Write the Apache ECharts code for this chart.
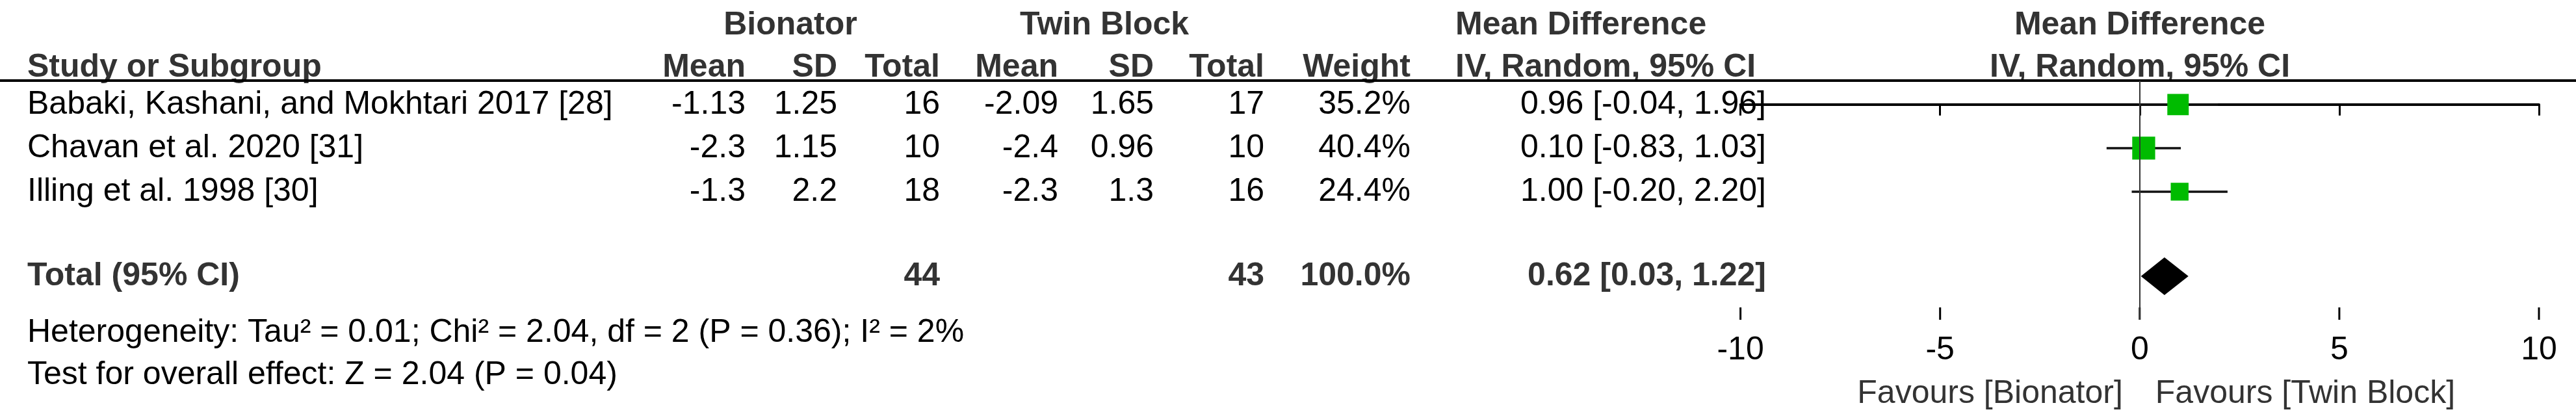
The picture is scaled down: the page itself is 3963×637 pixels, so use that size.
<!DOCTYPE html>
<html><head><meta charset="utf-8">
<script src="https://cdn.jsdelivr.net/npm/echarts@6/dist/echarts.min.js"></script>
<style>html,body{margin:0;padding:0;background:#fff}#c{width:3963px;height:637px}</style>
</head><body><div id="c"></div>
<script>
const studies = ['Babaki, Kashani, and Mokhtari 2017 [28]', 'Chavan et al. 2020 [31]', 'Illing et al. 1998 [30]'];
const bioMean = ['-1.13', '-2.3', '-1.3'];
const bioSD = ['1.25', '1.15', '2.2'];
const bioN = [16, 10, 18];
const twinMean = ['-2.09', '-2.4', '-2.3'];
const twinSD = ['1.65', '0.96', '1.3'];
const twinN = [17, 10, 16];
const weights = [35.2, 40.4, 24.4];
const md = [0.96, 0.10, 1.00];
const lo = [-0.04, -0.83, -0.20];
const hi = [1.96, 1.03, 2.20];
const total = {bioN: 44, twinN: 43, weight: '100.0%', md: 0.62, lo: 0.03, hi: 1.22};
const xTicks = [-10, -5, 0, 5, 10];
const heterogeneity = 'Heterogeneity: Tau² = 0.01; Chi² = 2.04, df = 2 (P = 0.36); I² = 2%';
const overall = 'Test for overall effect: Z = 2.04 (P = 0.04)';

const FONT = '"Liberation Sans", Arial, sans-serif';
const FS = 50;
const rowsY = [0, 1, 2];
const totalY = 3.94;
const axisY = 4.94;
const chart = echarts.init(document.getElementById('c'));
const fmt = v => v.toFixed(2);

chart.setOption({
  animation: false,
  grid: {left: 2677.6, right: 57, top: 124, bottom: 145},
  xAxis: {type: 'value', min: -10, max: 10, interval: 5, position: 'bottom',
     axisLine: {show: true, lineStyle: {color: '#000', width: 4}},
     axisTick: {show: true, length: 17, lineStyle: {color: '#000', width: 3}},
     axisLabel: {show: true, fontFamily: FONT, fontSize: FS, color: '#000', margin: 22},
     splitLine: {show: false}},
  yAxis: {type: 'value', min: -0.55, max: axisY, inverse: true, show: false},
  series: [
    {type: 'custom',
     data: md.map((m, i) => [m, rowsY[i], lo[i], hi[i], weights[i]]),
     renderItem: (params, api) => {
       const p = api.coord([api.value(0), api.value(1)]);
       const a = api.coord([api.value(2), api.value(1)]);
       const b = api.coord([api.value(3), api.value(1)]);
       const s = Math.sqrt(api.value(4)) * 5.55;
       return {type: 'group', children: [
         {type: 'line', shape: {x1: a[0], y1: p[1], x2: b[0], y2: p[1]}, style: {stroke: '#111', lineWidth: 3.5}},
         {type: 'rect', shape: {x: p[0] - s / 2, y: p[1] - s / 2, width: s, height: s}, style: {fill: '#00bb00'}}
       ]};
     },
     markLine: {silent: true, symbol: 'none', label: {show: false},
       lineStyle: {color: '#333', width: 2, type: 'solid'}, data: [{xAxis: 0}]}
    },
    {type: 'custom',
     data: xTicks.map(v => [v, axisY]),
     renderItem: (params, api) => {
       const p = api.coord([api.value(0), api.value(1)]);
       return {type: 'line', shape: {x1: p[0], y1: p[1] - 19, x2: p[0], y2: p[1]}, style: {stroke: '#000', lineWidth: 3}};
     }},
    {type: 'custom',
     data: [[total.md, totalY, total.lo, total.hi]],
     renderItem: (params, api) => {
       const c = api.coord([api.value(0), api.value(1)]);
       const a = api.coord([api.value(2), api.value(1)]);
       const b = api.coord([api.value(3), api.value(1)]);
       const h = 29;
       return {type: 'polygon', shape: {points: [[a[0], c[1]], [c[0], c[1] - h], [b[0], c[1]], [c[0], c[1] + h]]},
         style: {fill: '#000'}};
     }}
  ]
});

const yr = v => chart.convertToPixel({yAxisIndex: 0}, v);
const xp = v => chart.convertToPixel({xAxisIndex: 0}, v);
const els = [];
function t(text, x, y, align, bold, color) {
  els.push({type: 'text', x: x, y: y, style: {text: text, font: (bold ? 'bold ' : '') + FS + 'px ' + FONT,
    fill: color || '#000', align: align, verticalAlign: 'middle'}});
}
const H1 = 39, H2 = 104, HC = '#333';
t('Bionator', 1216, H1, 'center', true, HC);
t('Twin Block', 1699, H1, 'center', true, HC);
t('Mean Difference', 2239, H1, 'left', true, HC);
t('Mean Difference', 3292, H1, 'center', true, HC);
t('Study or Subgroup', 42, H2, 'left', true, HC);
const cols = [1147, 1288, 1446, 1628, 1775, 1945, 2170];
['Mean', 'SD', 'Total', 'Mean', 'SD', 'Total', 'Weight'].forEach((h, i) => t(h, cols[i], H2, 'right', true, HC));
t('IV, Random, 95% CI', 2239, H2, 'left', true, HC);
t('IV, Random, 95% CI', 3292, H2, 'center', true, HC);
els.push({type: 'line', shape: {x1: 0, y1: 124, x2: 3963, y2: 124}, style: {stroke: '#000', lineWidth: 4}});
studies.forEach((s, i) => {
  const y = yr(rowsY[i]);
  t(s, 42, y, 'left');
  const vals = [bioMean[i], bioSD[i], bioN[i], twinMean[i], twinSD[i], twinN[i], weights[i].toFixed(1) + '%'];
  vals.forEach((v, j) => t(String(v), cols[j], y, 'right'));
  t(fmt(md[i]) + ' [' + fmt(lo[i]) + ', ' + fmt(hi[i]) + ']', 2717, y, 'right');
});
const ty = yr(totalY);
t('Total (95% CI)', 42, ty, 'left', true, HC);
t(String(total.bioN), cols[2], ty, 'right', true, HC);
t(String(total.twinN), cols[5], ty, 'right', true, HC);
t(total.weight, cols[6], ty, 'right', true, HC);
t(fmt(total.md) + ' [' + fmt(total.lo) + ', ' + fmt(total.hi) + ']', 2717, ty, 'right', true, HC);
t(heterogeneity, 42, 512, 'left');
t(overall, 42, 577, 'left');
t('Favours [Bionator]', xp(0) - 26, 606, 'right', false, '#333');
t('Favours [Twin Block]', xp(0) + 24, 606, 'left', false, '#333');
chart.setOption({graphic: {elements: els}});
</script></body></html>
